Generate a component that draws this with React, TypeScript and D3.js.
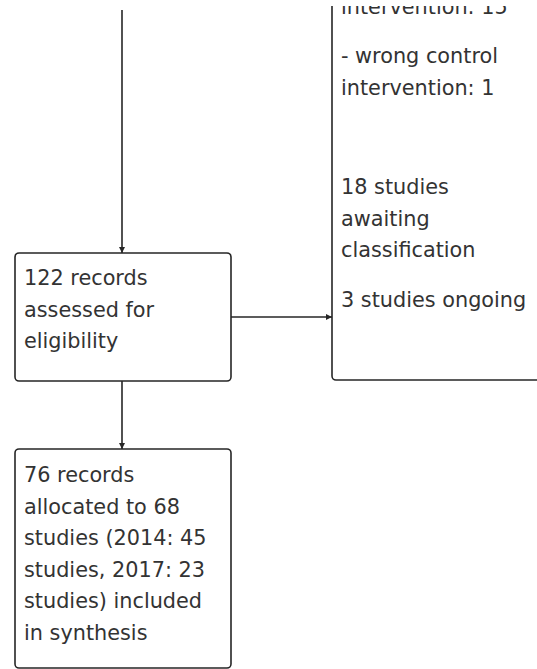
import React, { useEffect, useRef } from 'react';
import * as d3 from 'd3';

// box ids, positions in flow grid
const boxIds = ['excluded', 'assessed', 'included'];
const boxLines: string[][][] = [
  [
    ['intervention: 15'],
    ['- wrong control', 'intervention: 1'],
    [''],
    ['18 studies', 'awaiting', 'classification'],
    ['3 studies ongoing'],
  ],
  [['122 records', 'assessed for', 'eligibility']],
  [['76 records', 'allocated to 68', 'studies (2014: 45', 'studies, 2017: 23', 'studies) included', 'in synthesis']],
];
const links: [string, string][] = [
  ['top', 'assessed'],
  ['assessed', 'excluded'],
  ['assessed', 'included'],
];

const App: React.FC = () => {
  const svgRef = useRef<SVGSVGElement>(null);

  useEffect(() => {
    if (!svgRef.current) return;
    const width = 537;
    const height = 669;
    const svg = d3.select(svgRef.current).attr('width', width).attr('height', height).html('');

    const stroke = '#262626';
    const lineH = 31.6;
    const paraGap = 18;

    // box geometry
    const geo: Record<string, { x: number; y: number; w: number; h: number; textTop: number }> = {
      excluded: { x: 332, y: -60, w: 320, h: 440, textTop: 13.5 },
      assessed: { x: 15, y: 253, w: 216, h: 128, textTop: 285 },
      included: { x: 15, y: 449, w: 216, h: 219, textTop: 482 },
    };

    const defs = svg.append('defs');
    defs.append('marker')
      .attr('id', 'arr')
      .attr('viewBox', '0 0 10 10')
      .attr('refX', 10)
      .attr('refY', 5)
      .attr('markerWidth', 8)
      .attr('markerHeight', 6)
      .attr('markerUnits', 'userSpaceOnUse')
      .attr('orient', 'auto')
      .append('path')
      .attr('d', 'M0,0 L10,5 L0,10 Z')
      .attr('fill', stroke);
    defs.append('clipPath').attr('id', 'clipTop')
      .append('rect').attr('x', 0).attr('y', 6).attr('width', width).attr('height', height);

    const g = svg.append('g').attr('clip-path', 'url(#clipTop)');

    const line = d3.line<[number, number]>();
    links.forEach(([from, to]) => {
      let pts: [number, number][];
      const t = geo[to];
      if (from === 'top') {
        const cx = t.x + 107;
        pts = [[cx, 10], [cx, t.y]];
      } else {
        const f = geo[from];
        if (to === 'excluded') {
          const cy = f.y + f.h / 2;
          pts = [[f.x + f.w, cy], [t.x, cy]];
        } else {
          const cx = f.x + 107;
          pts = [[cx, f.y + f.h], [cx, t.y]];
        }
      }
      g.append('path')
        .attr('d', line(pts))
        .attr('stroke', stroke)
        .attr('stroke-width', 1.6)
        .attr('fill', 'none')
        .attr('marker-end', 'url(#arr)');
    });

    boxIds.forEach((id, i) => {
      const b = geo[id];
      g.append('rect')
        .attr('x', b.x)
        .attr('y', b.y)
        .attr('width', b.w)
        .attr('height', b.h)
        .attr('rx', 4)
        .attr('fill', 'none')
        .attr('stroke', stroke)
        .attr('stroke-width', 1.6);

      let y = b.textTop;
      boxLines[i].forEach((para) => {
        para.forEach((txt) => {
          g.append('text')
            .attr('x', b.x + 9)
            .attr('y', y)
            .attr('font-family', '"DejaVu Sans", sans-serif')
            .attr('font-size', 20.8)
            .attr('fill', '#333')
            .text(txt);
          y += lineH;
        });
        y += paraGap;
      });
    });
  }, []);

  return (
    <div style={{ position: 'absolute', left: 0, top: 0, background: '#fff' }}>
      <svg ref={svgRef} style={{ display: 'block' }}></svg>
    </div>
  );
};

export default App;
